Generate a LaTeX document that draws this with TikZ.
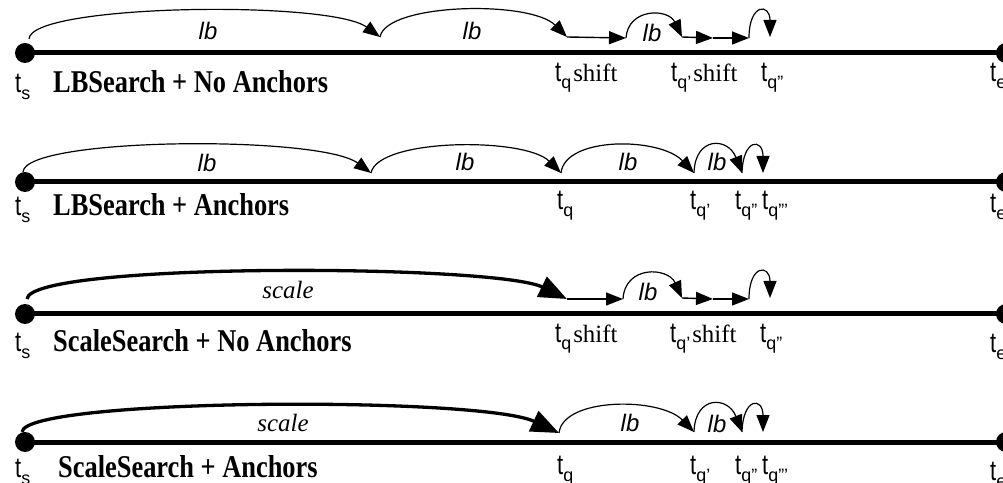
\documentclass[tikz,border=0pt]{standalone}
\usepackage{fontspec}
\setmainfont{Liberation Serif}
\setsansfont{Liberation Sans}
\usetikzlibrary{arrows.meta}
% time-point label: tall sans t with a sans subscript
\newcommand\tv[1]{{\sffamily\fontsize{22}{22}\selectfont\scalebox{1}[1.3]{t}\raisebox{-7bp}{\fontsize{18}{18}\selectfont #1}}}
% bold row title, slightly condensed look
\newcommand\rowtitle[1]{\scalebox{1}[1.2]{\fontsize{26.5}{30}\selectfont\bfseries #1}}
\begin{document}
\begin{tikzpicture}[x=1bp,y=-1bp,
  axis/.style={line width=5bp},
  enddot/.style={circle,fill,inner sep=0,minimum size=20bp},
  hop/.style={line width=1.2bp,-{Triangle[length=17bp,width=13bp]}},
  shiftarrow/.style={line width=1.4bp,-{Triangle[length=17bp,width=13bp]}},
  bigjump/.style={line width=3.3bp,-{Triangle[length=28bp,width=22bp]}},
  tlbl/.style={anchor=base west,inner sep=0,font=\fontsize{25}{30}\selectfont},
  title/.style={anchor=base west,inner sep=0},
  lbtext/.style={inner sep=0,font=\fontsize{24}{26}\selectfont\sffamily\itshape},
  sctext/.style={inner sep=0,font=\fontsize{25}{30}\selectfont\itshape},
]
\useasboundingbox (0,0) rectangle (1003,483);

% ---------- row 1: LBSearch + No Anchors ----------
\node[enddot] (s1) at (25,53) {};
\node[enddot] (e1) at (1006,53) {};
\draw[axis] (s1.center) -- (e1.center);
\coordinate (r1a) at (29,39);
\coordinate (r1b) at (380,37);
\coordinate (r1c) at (567,37);
\coordinate (r1d) at (626,38);
\coordinate (r1e) at (682,37);
\coordinate (r1f) at (713,38);
\coordinate (r1g) at (749,38);
\coordinate (r1h) at (770,37);
\draw[hop] (r1a) .. controls (30,4) and (330,0) .. (r1b);
\draw[hop] (r1b) .. controls (386,3) and (530,0) .. (r1c);
\draw[shiftarrow] (r1c) -- (r1d);
\draw[hop] (r1d) .. controls (628,8) and (668,8) .. (r1e);
\draw[shiftarrow] (r1e) -- (r1f);
\draw[shiftarrow] (r1f) -- (r1g);
\draw[hop] (r1g) .. controls (749,3) and (770,3) .. (r1h);
\node[lbtext] (l1a) at (208,31) {lb};
\node[lbtext] (l1b) at (472,31) {lb};
\node[lbtext] (l1c) at (652,33) {lb};
\node[tlbl] (ts1) at (15,93) {\tv{s}};
\node[title] (n1) at (53,93) {\rowtitle{LBSearch + No Anchors}};
\node[tlbl] (q1a) at (555,82) {\tv{q}\hspace{2bp}shift};
\node[tlbl] (q1b) at (671,82) {\tv{q'}\hspace{2bp}shift};
\node[tlbl] (q1c) at (761,82) {\tv{q''}};
\node[tlbl] (te1) at (990,82) {\tv{e}};

% ---------- row 2: LBSearch + Anchors ----------
\node[enddot] (s2) at (25,182) {};
\node[enddot] (e2) at (1006,182) {};
\draw[axis] (s2.center) -- (e2.center);
\coordinate (r2a) at (23,172);
\coordinate (r2b) at (371,173);
\coordinate (r2c) at (561,173);
\coordinate (r2d) at (694,173);
\coordinate (r2e) at (742,173);
\coordinate (r2f) at (763,173);
\draw[hop] (r2a) .. controls (25,137) and (320,135) .. (r2b);
\draw[hop] (r2b) .. controls (378,138) and (525,137) .. (r2c);
\draw[hop] (r2c) .. controls (565,136) and (660,137) .. (r2d);
\draw[hop] (r2d) .. controls (695,136) and (728,137) .. (r2e);
\draw[hop] (r2e) .. controls (743,138) and (763,138) .. (r2f);
\node[lbtext] (l2a) at (207,163) {lb};
\node[lbtext] (l2b) at (465,162) {lb};
\node[lbtext] (l2c) at (628,162) {lb};
\node[lbtext] (l2d) at (717,162) {lb};
\node[tlbl] (ts2) at (15,216) {\tv{s}};
\node[title] (n2) at (53,216) {\rowtitle{LBSearch + Anchors}};
\node[tlbl] (q2a) at (557,210) {\tv{q}};
\node[tlbl] (q2b) at (690,210) {\tv{q'}};
\node[tlbl] (q2c) at (735,210) {\tv{q''}};
\node[tlbl] (q2d) at (762,210) {\tv{q'''}};
\node[tlbl] (te2) at (990,213) {\tv{e}};

% ---------- row 3: ScaleSearch + No Anchors ----------
\node[enddot] (s3) at (25,314) {};
\node[enddot] (e3) at (1006,314) {};
\draw[axis] (s3.center) -- (e3.center);
\coordinate (r3a) at (27,299);
\coordinate (r3c) at (567,299);
\coordinate (r3d) at (623,299);
\coordinate (r3e) at (682,298);
\coordinate (r3f) at (713,299);
\coordinate (r3g) at (749,299);
\coordinate (r3h) at (770,298);
\draw[bigjump] (r3a) .. controls (30,262) and (495,264) .. (r3c);
\draw[shiftarrow] (r3c) -- (r3d);
\draw[hop] (r3d) .. controls (625,265) and (668,267) .. (r3e);
\draw[shiftarrow] (r3e) -- (r3f);
\draw[shiftarrow] (r3f) -- (r3g);
\draw[hop] (r3g) .. controls (749,264) and (770,264) .. (r3h);
\node[sctext] (c3) at (288,290) {scale};
\node[lbtext] (l3a) at (648,292) {lb};
\node[tlbl] (ts3) at (15,352) {\tv{s}};
\node[title] (n3) at (53,352) {\rowtitle{ScaleSearch + No Anchors}};
\node[tlbl] (q3a) at (555,343) {\tv{q}\hspace{2bp}shift};
\node[tlbl] (q3b) at (670,343) {\tv{q'}\hspace{2bp}shift};
\node[tlbl] (q3c) at (760,343) {\tv{q''}};
\node[tlbl] (te3) at (990,353) {\tv{e}};

% ---------- row 4: ScaleSearch + Anchors ----------
\node[enddot] (s4) at (25,442) {};
\node[enddot] (e4) at (1006,442) {};
\draw[axis] (s4.center) -- (e4.center);
\coordinate (r4a) at (22,432);
\coordinate (r4c) at (559,433);
\coordinate (r4d) at (694,432);
\coordinate (r4e) at (742,432);
\coordinate (r4f) at (763,432);
\draw[bigjump] (r4a) .. controls (25,398) and (480,396) .. (r4c);
\draw[hop] (r4c) .. controls (563,397) and (660,397) .. (r4d);
\draw[hop] (r4d) .. controls (695,395) and (728,396) .. (r4e);
\draw[hop] (r4e) .. controls (743,397) and (763,397) .. (r4f);
\node[sctext] (c4) at (283,423) {scale};
\node[lbtext] (l4a) at (630,423) {lb};
\node[lbtext] (l4b) at (717,424) {lb};
\node[tlbl] (ts4) at (15,477) {\tv{s}};
\node[title] (n4) at (58,477) {\rowtitle{ScaleSearch + Anchors}};
\node[tlbl] (q4a) at (557,474) {\tv{q}};
\node[tlbl] (q4b) at (690,474) {\tv{q'}};
\node[tlbl] (q4c) at (735,474) {\tv{q''}};
\node[tlbl] (q4d) at (762,474) {\tv{q'''}};
\node[tlbl] (te4) at (990,480) {\tv{e}};
\end{tikzpicture}
\end{document}
